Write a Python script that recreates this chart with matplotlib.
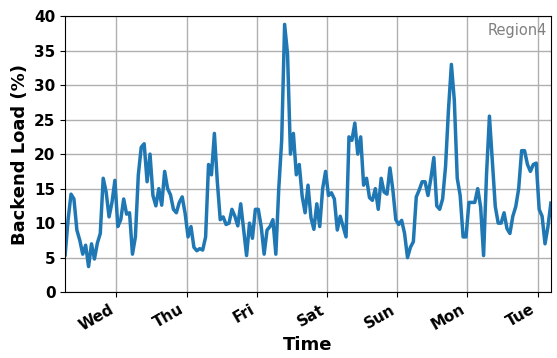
import numpy as np
import pandas as pd
import matplotlib
matplotlib.use('Agg')
import matplotlib.pyplot as plt
import matplotlib.dates as mdates

# hourly backend load, starting Tue 06:30
start = '2020-01-07 06:30'
load_tue = [5.4, 10.5, 14.2, 13.5, 9.0, 7.5, 5.5, 6.8, 3.7, 7.0, 4.8, 7.1,
            8.5, 16.5, 14.5, 10.9, 13.0, 16.2]
load_wed = [9.5, 10.5, 13.5, 11.3, 11.5, 5.5, 8.0, 17.0, 21.0, 21.5, 16.0, 20.0,
            14.0, 12.5, 15.0, 12.6, 17.5, 15.0, 14.1, 12.0, 11.5, 13.0, 13.8, 11.4]
load_thu = [8.0, 9.5, 6.5, 6.0, 6.3, 6.1, 8.0, 18.5, 17.0, 23.0, 16.0, 10.5,
            10.9, 9.8, 10.0, 12.0, 11.0, 9.6, 12.8, 9.0, 5.3, 10.0, 7.8, 12.0]
load_fri = [12.0, 9.5, 5.5, 9.0, 9.5, 10.5, 5.5, 15.0, 22.0, 38.8, 34.5, 20.0,
            23.0, 17.0, 18.5, 13.9, 11.5, 15.5, 10.8, 9.1, 12.8, 9.5, 15.0, 17.5]
load_sat = [14.0, 14.4, 13.5, 9.0, 11.0, 9.5, 8.0, 22.5, 22.0, 24.5, 20.0, 22.5,
            15.5, 16.5, 13.7, 13.3, 15.0, 12.0, 16.5, 14.5, 14.2, 18.0, 14.8, 10.5]
load_sun = [9.8, 10.4, 8.5, 5.0, 6.5, 7.3, 13.8, 14.8, 16.0, 16.0, 14.0, 16.5,
            19.5, 12.5, 12.0, 13.5, 18.2, 26.4, 33.0, 27.8, 16.5, 14.0, 8.0, 8.0]
load_mon = [13.0, 13.0, 13.0, 15.0, 12.3, 5.3, 17.0, 25.5, 19.0, 12.4, 10.0, 10.0,
            11.5, 9.2, 8.5, 11.0, 12.4, 15.0, 20.5, 20.5, 18.5, 17.5, 18.5, 18.7]
load_tue2 = [12.0, 11.0, 7.0, 9.5, 12.9]

load = load_tue + load_wed + load_thu + load_fri + load_sat + load_sun + load_mon + load_tue2
times = pd.date_range(start, periods=len(load), freq='h')

fig = plt.figure(figsize=(5.57, 3.58), dpi=100)
ax = fig.add_axes([0.117, 0.184, 0.872, 0.771])

ax.plot(times, load, color='#1f77b4', linewidth=2.5)

ax.set_xlim(times[0], times[-1])
ax.set_ylim(0, 40)
ax.xaxis.set_major_locator(mdates.DayLocator())
ax.xaxis.set_major_formatter(mdates.DateFormatter('%a'))
ax.grid(True, color='#b0b0b0', linewidth=1)

for lbl in ax.get_xticklabels():
    lbl.set_rotation(30)
    lbl.set_ha('right')
    lbl.set_fontweight('bold')
    lbl.set_fontsize(11)
for lbl in ax.get_yticklabels():
    lbl.set_fontweight('bold')
    lbl.set_fontsize(11)

ax.set_xlabel('Time', fontsize=13, fontweight='bold', labelpad=2)
ax.set_ylabel('Backend Load (%)', fontsize=13, fontweight='bold')
ax.text(0.992, 0.975, 'Region4', transform=ax.transAxes, ha='right', va='top',
        color='gray', fontsize=10.5)

plt.savefig('out.png', dpi=100)
